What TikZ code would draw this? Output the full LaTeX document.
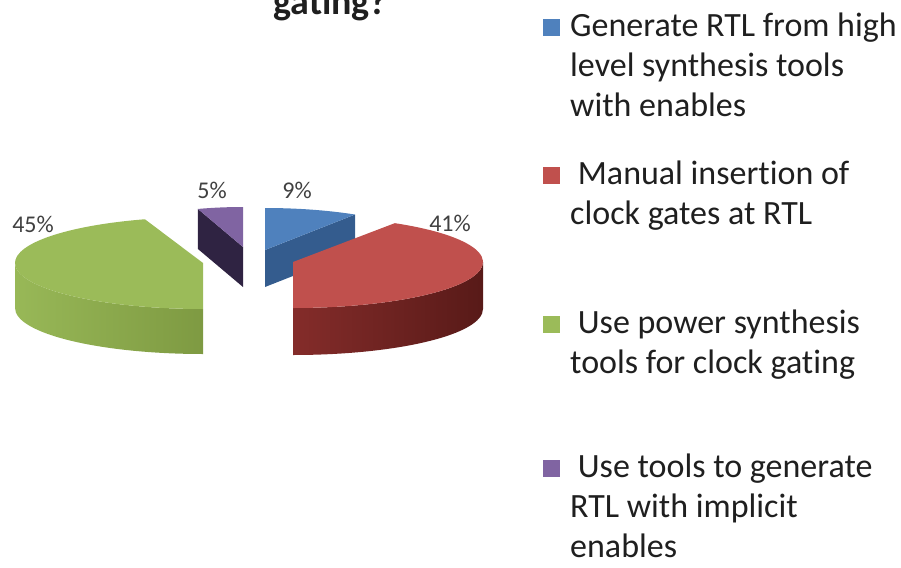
\documentclass[tikz,border=0pt]{standalone}
\usepackage{fontspec}
\setmainfont{Carlito}[Ligatures=NoCommon]
\usetikzlibrary{positioning}
\definecolor{pieblue}{RGB}{79,129,189}
\definecolor{piebluecut}{RGB}{52,92,142}
\definecolor{piered}{RGB}{192,80,77}
\definecolor{pieredside}{RGB}{132,44,42}
\definecolor{pieredback}{RGB}{88,26,24}
\definecolor{piegreen}{RGB}{155,187,89}
\definecolor{piegreenside}{RGB}{152,184,87}
\definecolor{piegreenback}{RGB}{126,154,66}
\definecolor{piepurple}{RGB}{128,100,162}
\definecolor{piepurplecut}{RGB}{47,35,66}
\definecolor{labelgray}{RGB}{64,64,64}

\begin{document}
\begin{tikzpicture}[x=1pt,y=-1pt,
    pct/.style={font=\fontsize{24}{26}\selectfont,text=labelgray,inner sep=0pt},
    legkey/.style={minimum size=17pt,inner sep=0pt},
    legtext/.style={font=\fontsize{34}{40}\selectfont,text=black!88,align=left,anchor=base west,inner sep=0pt}]
    \useasboundingbox (0,0) rectangle (901,567);
    % title, cut by the top edge
    \node[font=\fontsize{38}{40}\selectfont\bfseries,text=black!88,anchor=base west,inner sep=0pt] (title) at (273,15) {gating?};
    % blue slice 9%
    \begin{scope}[shift={(265,250)}]
      \fill[piebluecut] (0,0) -- (302.4:168 and 42) -- ++(0,37) -- (0,37) -- cycle;
      \fill[pieblue] (0,0) -- (270:168 and 42) arc[start angle=270,end angle=302.4,x radius=168,y radius=42] -- cycle;
    \end{scope}
    % purple slice 5%
    \begin{scope}[shift={(243,247)}]
      \fill[piepurplecut] (0,0) -- (252:146 and 40) -- ++(0,40) -- (0,40) -- cycle;
      \fill[piepurple] (0,0) -- (252:146 and 40) arc[start angle=252,end angle=270,x radius=146,y radius=40] -- cycle;
    \end{scope}
    % green slice 45%
    \begin{scope}[shift={(203,263)}]
      \shade[left color=piegreenside,right color=piegreenback] (90:188 and 46) arc[start angle=90,end angle=180,x radius=188,y radius=46] -- ++(0,45) arc[start angle=180,end angle=90,x radius=188,y radius=46] -- cycle;
      \fill[piegreen] (0,0) -- (90:188 and 46) arc[start angle=90,end angle=252,x radius=188,y radius=46] -- cycle;
    \end{scope}
    % red slice 41%
    \begin{scope}[shift={(293,262)}]
      \shade[left color=pieredside,right color=pieredback] (0:190 and 46) arc[start angle=0,end angle=90,x radius=190,y radius=46] -- ++(0,47) arc[start angle=90,end angle=0,x radius=190,y radius=46] -- cycle;
      \fill[piered] (0,0) -- (302.4:190 and 46) arc[start angle=302.4,end angle=450,x radius=190,y radius=46] -- cycle;
    \end{scope}
    % percentages
    \node[pct] (pctBlue) at (297,190) {9\%};
    \node[pct] (pctRed) at (450,223) {41\%};
    \node[pct] (pctGreen) at (33,224) {45\%};
    \node[pct] (pctPurple) at (212,190) {5\%};
    % legend (base = last line)
    \node[legkey,fill=pieblue] (keyBlue) at (551,28) {};
    \node[legtext] (legBlue) at (570,117) {Generate RTL from high\\level synthesis tools\\with enables};
    \node[legkey,fill=piered] (keyRed) at (551,175) {};
    \node[legtext] (legRed) at (570,224) {\ Manual insertion of\\clock gates at RTL};
    \node[legkey,fill=piegreen] (keyGreen) at (551,324) {};
    \node[legtext] (legGreen) at (570,373) {\ Use power synthesis\\tools for clock gating};
    \node[legkey,fill=piepurple] (keyPurple) at (551,468) {};
    \node[legtext] (legPurple) at (570,557) {\ Use tools to generate\\RTL with implicit\\enables};
\end{tikzpicture}
\end{document}
